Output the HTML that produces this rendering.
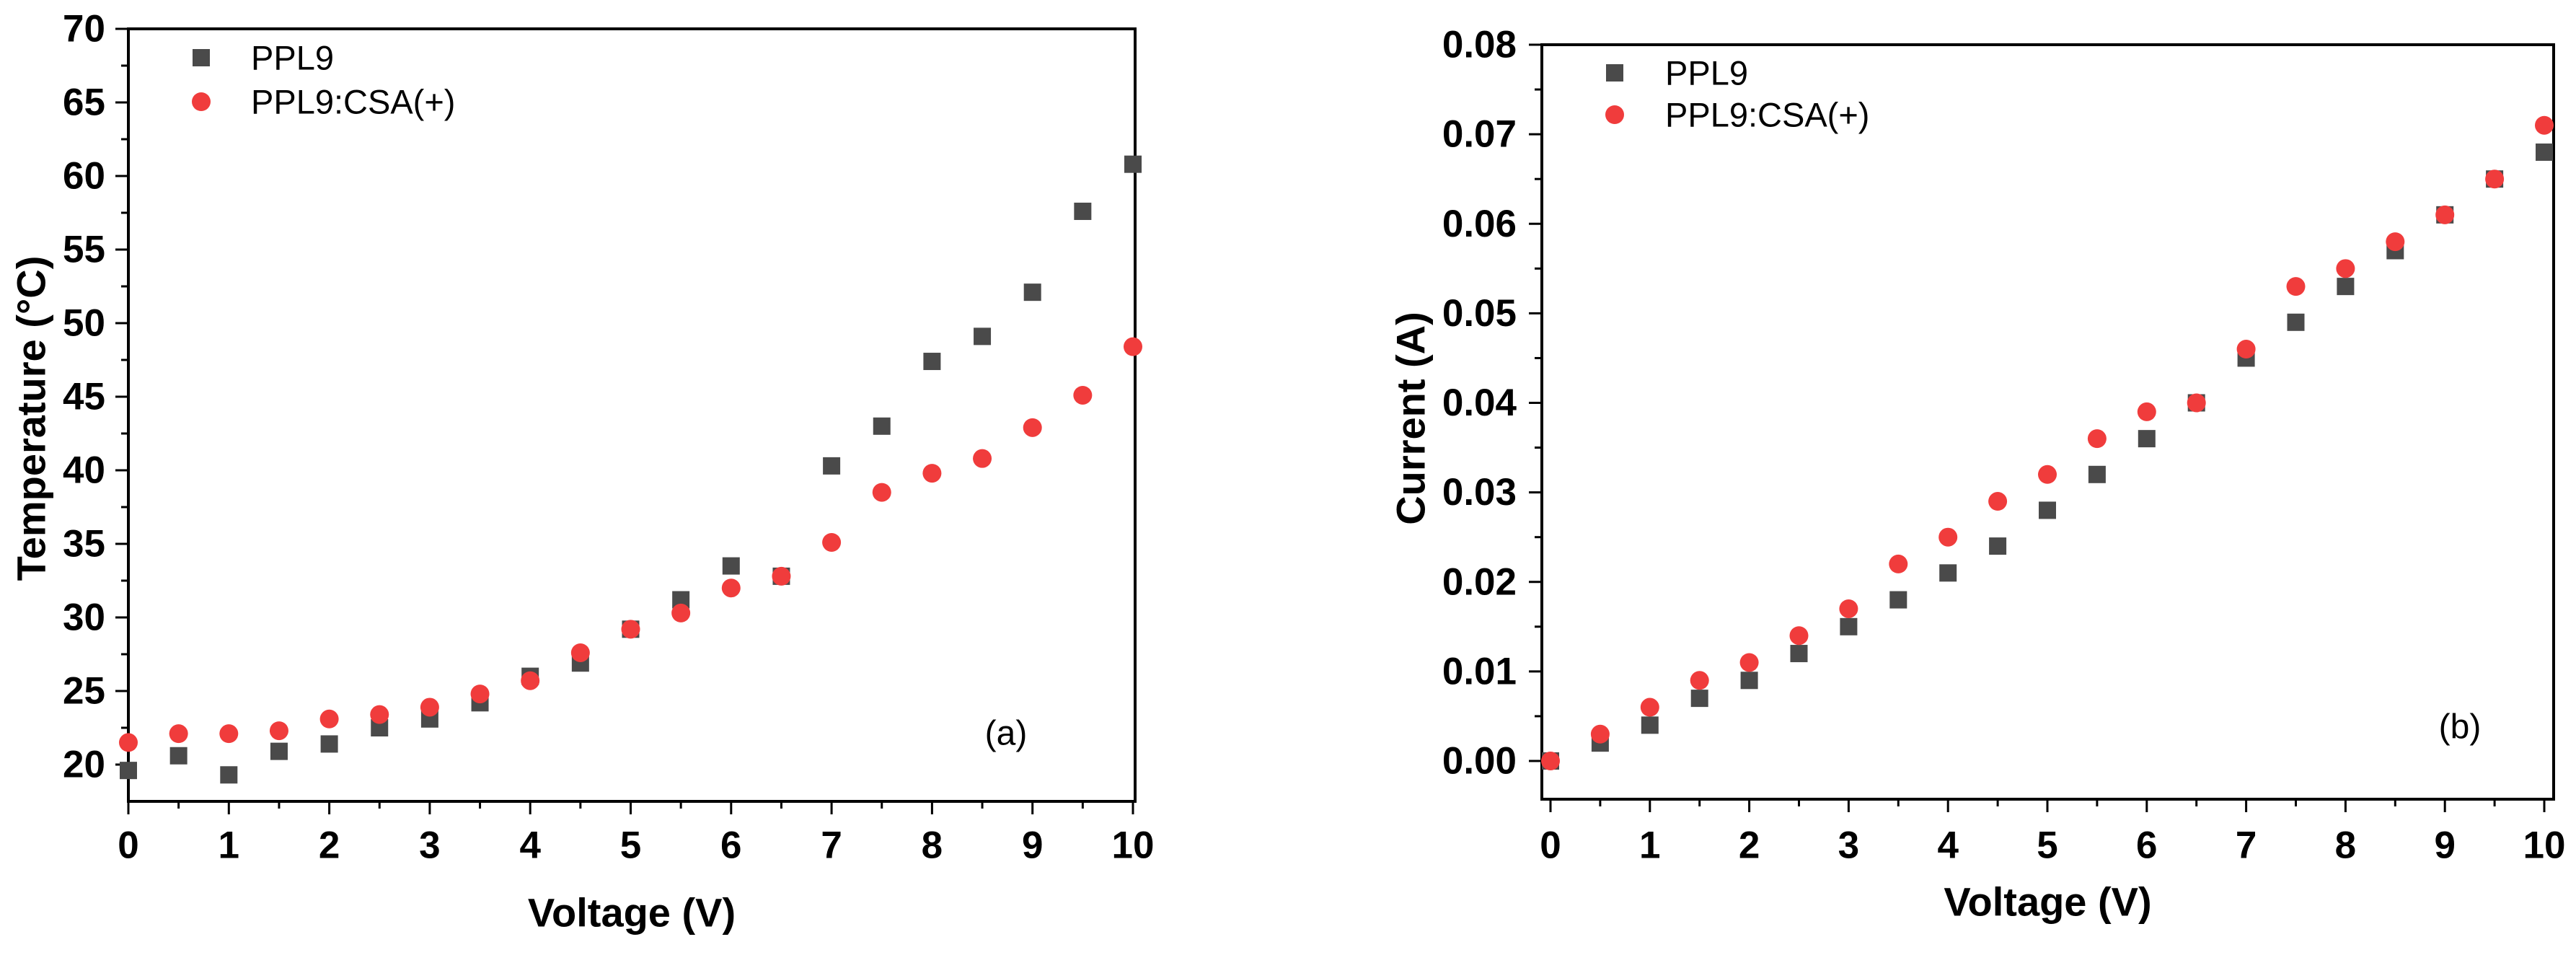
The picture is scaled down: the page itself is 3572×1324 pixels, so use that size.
<!DOCTYPE html>
<html><head><meta charset="utf-8"><style>
html,body{margin:0;padding:0;background:#fff;}
svg{display:block;}
text{font-family:"Liberation Sans",Arial,sans-serif;}
</style></head><body>
<svg id="fig" width="3572" height="1324" viewBox="0 0 3572 1324" xmlns="http://www.w3.org/2000/svg"></svg>
<script>
const voltages=[0,0.5,1,1.5,2,2.5,3,3.5,4,4.5,5,5.5,6,6.5,7,7.5,8,8.5,9,9.5,10];
const tempPPL9=[19.6,20.6,19.3,20.9,21.4,22.5,23.1,24.2,26.0,26.9,29.2,31.2,33.5,32.8,40.3,43.0,47.4,49.1,52.1,57.6,60.8];
const tempCSA=[21.5,22.1,22.1,22.3,23.1,23.4,23.9,24.8,25.7,27.6,29.2,30.3,32.0,32.8,35.1,38.5,39.8,40.8,42.9,45.1,48.4];
const curPPL9=[0,0.002,0.004,0.007,0.009,0.012,0.015,0.018,0.021,0.024,0.028,0.032,0.036,0.040,0.045,0.049,0.053,0.057,0.061,0.065,0.068];
const curCSA=[0,0.003,0.006,0.009,0.011,0.014,0.017,0.022,0.025,0.029,0.032,0.036,0.039,0.040,0.046,0.053,0.055,0.058,0.061,0.065,0.071];
const xTicks=[0,1,2,3,4,5,6,7,8,9,10];
const tempTicks=[20,25,30,35,40,45,50,55,60,65,70];
const curTicks=[0,0.01,0.02,0.03,0.04,0.05,0.06,0.07,0.08];

const NS="http://www.w3.org/2000/svg";
const svg=document.getElementById('fig');
function mk(tag,attrs,parent){const e=document.createElementNS(NS,tag);for(const k in attrs)e.setAttribute(k,attrs[k]);(parent||svg).appendChild(e);return e;}

function panel(cfg){
  const g=mk('g',{});
  
  
  const sx=v=>cfg.x0+(v-0)/(10-0)*(cfg.x10-cfg.x0);
  const sy=v=>cfg.yA+(v-cfg.vA)/(cfg.vB-cfg.vA)*(cfg.yB-cfg.yA);
  const box=mk('rect',{x:cfg.left,y:cfg.top,width:cfg.right-cfg.left,height:cfg.bottom-cfg.top,fill:'none',stroke:'#000','stroke-width':4},g);
  
  
  for(let v=0;v<=10;v+=0.5){
    const x=sx(v);const major=Number.isInteger(v);
    mk('line',{x1:x,x2:x,y1:cfg.bottom,y2:cfg.bottom+(major?18:10),stroke:'#000','stroke-width':3},g);
  }
  xTicks.forEach(v=>{
    const t=mk('text',{x:sx(v),y:cfg.xlabY,'font-size':53,'font-weight':'bold','text-anchor':'middle','dominant-baseline':'central'},g);
    t.textContent=v;
    
    
  });
  const yt=cfg.yticks;
  for(let i=0;i<yt.length;i++){
    const y=sy(yt[i]);
    mk('line',{x1:cfg.left-18,x2:cfg.left,y1:y,y2:y,stroke:'#000','stroke-width':3},g);
    if(i<yt.length-1){const ym=sy((yt[i]+yt[i+1])/2);mk('line',{x1:cfg.left-10,x2:cfg.left,y1:ym,y2:ym,stroke:'#000','stroke-width':3},g);}
    const t=mk('text',{x:cfg.ylabX,y:y,'font-size':53,'font-weight':'bold','text-anchor':'end','dominant-baseline':'central'},g);
    t.textContent=cfg.fmt(yt[i]);
    
    
  }
  const xt=mk('text',{x:(cfg.left+cfg.right)/2,y:cfg.xtitleY,'font-size':56,'font-weight':'bold','text-anchor':'middle','dominant-baseline':'central'},g);
  xt.textContent='Voltage (V)';
  
  
  const ytt=mk('text',{x:0,y:0,'font-size':56,'font-weight':'bold','text-anchor':'middle','dominant-baseline':'central',transform:`translate(${cfg.ytitleX},580) rotate(-90)`},g);
  ytt.textContent=cfg.ytitle;
  
  
  voltages.forEach((v,i)=>{
    const r=mk('rect',{x:sx(v)-12,y:sy(cfg.s1[i])-12,width:24,height:24,fill:'#4a4a4a'},g);
    
    
  });
  voltages.forEach((v,i)=>{
    const c=mk('circle',{cx:sx(v),cy:sy(cfg.s2[i]),r:13,fill:'#f03c3c'},g);
    
    
  });
  const l1=mk('rect',{x:cfg.legX-12,y:cfg.legY1-12,width:24,height:24,fill:'#4a4a4a'},g);
  
  
  const t1=mk('text',{x:cfg.legTX,y:cfg.legY1,'font-size':47,'dominant-baseline':'central'},g);
  t1.textContent='PPL9';
  
  
  const l2=mk('circle',{cx:cfg.legX,cy:cfg.legY2,r:13,fill:'#f03c3c'},g);
  
  
  const t2=mk('text',{x:cfg.legTX,y:cfg.legY2,'font-size':47,'dominant-baseline':'central'},g);
  t2.textContent='PPL9:CSA(+)';
  
  
  const pl=mk('text',{x:cfg.plX,y:cfg.plY,'font-size':48,'text-anchor':'middle','dominant-baseline':'central'},g);
  pl.textContent=cfg.plabel;
  
  
}
panel({name:'temperature-chart',left:178,right:1574,top:40,bottom:1111,x0:178,x10:1571,
  yA:1060,vA:20,yB:40,vB:70,yticks:tempTicks,fmt:v=>String(v),ylabX:146,xlabY:1172,xtitleY:1265,
  ytitle:'Temperature (°C)',ytitleX:43,s1:tempPPL9,s2:tempCSA,legX:279,legTX:348,legY1:80,legY2:141,
  plabel:'(a)',plX:1395,plY:1017});
panel({name:'current-chart',left:2138,right:3541,top:62,bottom:1108,x0:2150,x10:3528,
  yA:1055,vA:0,yB:62,vB:0.08,yticks:curTicks,fmt:v=>v.toFixed(2),ylabX:2103,xlabY:1172,xtitleY:1250,
  ytitle:'Current (A)',ytitleX:1956,s1:curPPL9,s2:curCSA,legX:2239,legTX:2309,legY1:101,legY2:159,
  plabel:'(b)',plX:3411,plY:1008});
</script>
</body></html>
